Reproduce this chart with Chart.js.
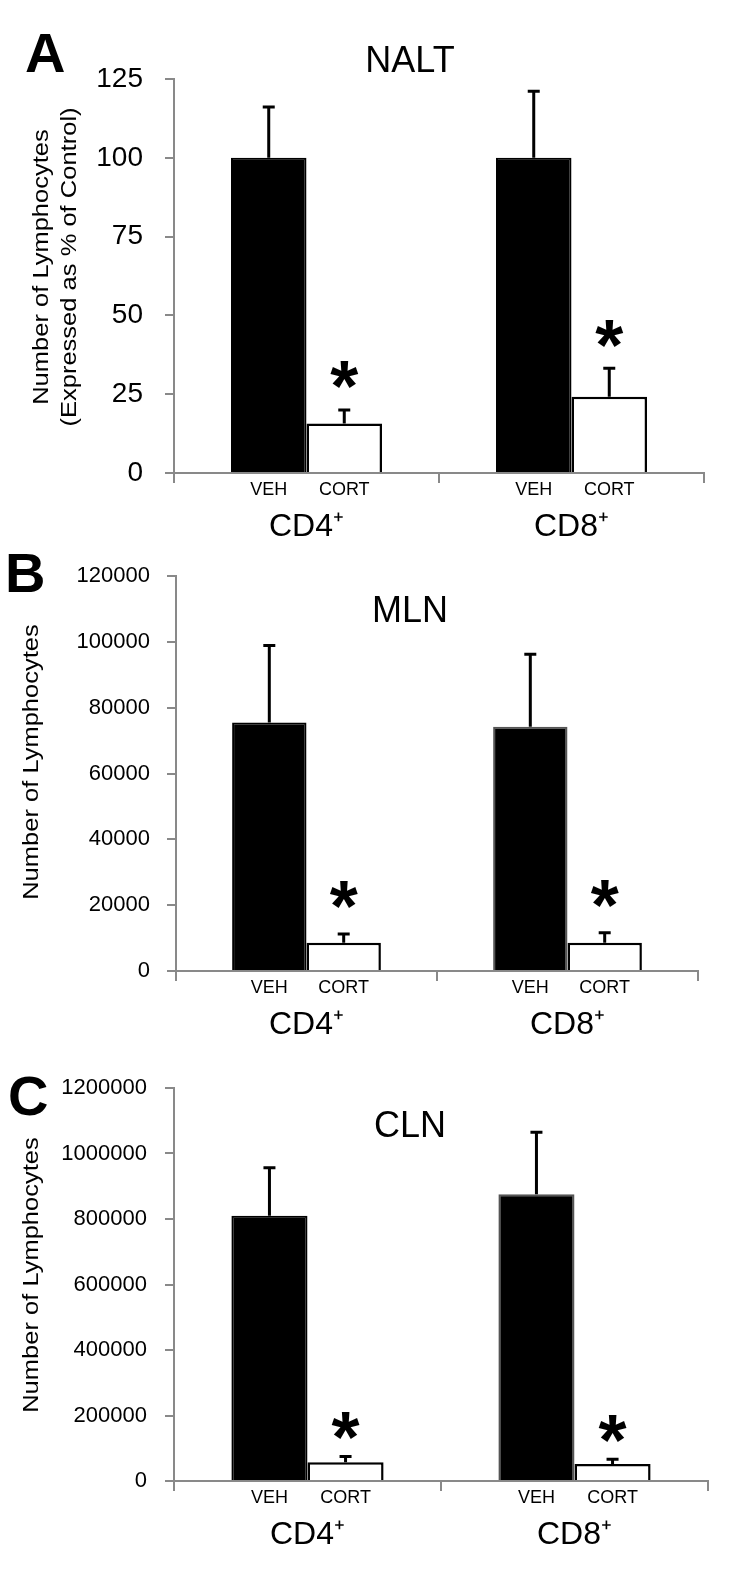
<!DOCTYPE html>
<html><head><meta charset="utf-8">
<script src="https://cdn.jsdelivr.net/npm/chart.js@4.4.1/dist/chart.umd.min.js"></script>
<style>
html,body{margin:0;padding:0;background:#fff;}
#wrap{position:relative;width:750px;height:1586px;overflow:hidden;}
.panel{position:absolute;left:0;width:750px;}
canvas{display:block;}
</style></head><body>
<div id="wrap">
<div class="panel" style="top:0;height:540px"><canvas id="cA" width="750" height="540"></canvas></div>
<div class="panel" style="top:540px;height:510px"><canvas id="cB" width="750" height="510"></canvas></div>
<div class="panel" style="top:1050px;height:536px"><canvas id="cC" width="750" height="536"></canvas></div>
</div>
<script>
// ---- data ----
const cellTypes = ['CD4\u207A', 'CD8\u207A'];
const treatments = ['VEH', 'CORT'];

const naltVeh = [100, 100];
const naltVehErr = [16.1, 21.1];
const naltCort = [15.7, 24.2];
const naltCortErr = [4.3, 9.0];
const naltTicks = [0, 25, 50, 75, 100, 125];

const mlnVeh = [75500, 74200];
const mlnVehErr = [23400, 22000];
const mlnCort = [8600, 8600];
const mlnCortErr = [2650, 3050];
const mlnTicks = [0, 20000, 40000, 60000, 80000, 100000, 120000];

const clnVeh = [810000, 875500];
const clnVehErr = [146700, 189300];
const clnCort = [57200, 52000];
const clnCortErr = [17300, 14400];
const clnTicks = [0, 200000, 400000, 600000, 800000, 1000000, 1200000];

// ---- drawing ----
const FONT = '"Liberation Sans", Arial, Helvetica, sans-serif';
const AXIS = '#898989';

const panels = [
  {id:'cA', letter:'A', title:'NALT', yTitle:['Number of Lymphocytes','(Expressed as % of Control)'],
   veh:naltVeh, vehErr:naltVehErr, cort:naltCort, cortErr:naltCortErr, ticks:naltTicks,
   padTop:79, padRight:46, yWidth:174, xHeight:67, tickFont:28, tickPad:22,
   titleY:59, letterX:25, letterY:72, yTitleX:[47.5, 76], yTitleY:267, starGap:35,
   vehBorder:['#000','#000']},
  {id:'cB', letter:'B', title:'MLN', yTitle:['Number of Lymphocytes'],
   veh:mlnVeh, vehErr:mlnVehErr, cort:mlnCort, cortErr:mlnCortErr, ticks:mlnTicks,
   padTop:36, padRight:52, yWidth:176, xHeight:79, tickFont:22, tickPad:17,
   titleY:69, letterX:5, letterY:52, yTitleX:[37.5], yTitleY:222, starGap:39,
   vehBorder:['#000','#555']},
  {id:'cC', letter:'C', title:'CLN', yTitle:['Number of Lymphocytes'],
   veh:clnVeh, vehErr:clnVehErr, cort:clnCort, cortErr:clnCortErr, ticks:clnTicks,
   padTop:38, padRight:42, yWidth:174, xHeight:105, tickFont:22, tickPad:18,
   titleY:74, letterX:8, letterY:65, yTitleX:[37.5], yTitleY:225, starGap:31,
   vehBorder:['#000','#555']}
];

function makeChart(p){
  const annot = {
    id: 'annot' + p.letter,
    afterDatasetsDraw(chart){
      const ctx = chart.ctx, ys = chart.scales.y, area = chart.chartArea;
      ctx.save();
      const series = [[p.veh, p.vehErr], [p.cort, p.cortErr]];
      series.forEach(([vals, errs], di) => {
        const meta = chart.getDatasetMeta(di);
        meta.data.forEach((bar, j) => {
          const top = ys.getPixelForValue(vals[j] + errs[j]);
          ctx.strokeStyle = '#000';
          ctx.lineWidth = 3;
          ctx.lineCap = 'butt';
          ctx.beginPath();
          ctx.moveTo(bar.x, bar.y);
          ctx.lineTo(bar.x, top);
          ctx.moveTo(bar.x - 6, top);
          ctx.lineTo(bar.x + 6, top);
          ctx.stroke();
          if (di === 1) {
            ctx.font = 'bold 72px ' + FONT;
            ctx.textAlign = 'center';
            ctx.textBaseline = 'alphabetic';
            ctx.fillStyle = '#000';
            const m = ctx.measureText('*');
            const cy = top - p.starGap;
            const dx = (m.actualBoundingBoxLeft - m.actualBoundingBoxRight) / 2;
            ctx.fillText('*', bar.x + dx, cy + (m.actualBoundingBoxAscent - m.actualBoundingBoxDescent) / 2);
          }
          ctx.font = '18px ' + FONT;
          ctx.textAlign = 'center';
          ctx.textBaseline = 'middle';
          ctx.fillStyle = '#000';
          ctx.fillText(treatments[di], bar.x, area.bottom + 17);
        });
      });
      ctx.restore();
    },
    afterDraw(chart){
      const ctx = chart.ctx;
      ctx.save();
      ctx.fillStyle = '#000';
      // panel title
      ctx.font = '36px ' + FONT;
      ctx.textAlign = 'center';
      ctx.textBaseline = 'alphabetic';
      ctx.fillText(p.title, 410, p.titleY + 12.9);
      // panel letter
      ctx.font = 'bold 56px ' + FONT;
      ctx.textAlign = 'left';
      ctx.fillText(p.letter, p.letterX, p.letterY);
      // y-axis title
      ctx.font = '22px ' + FONT;
      ctx.textAlign = 'center';
      p.yTitle.forEach((line, i) => {
        ctx.save();
        ctx.translate(p.yTitleX[i], p.yTitleY);
        ctx.rotate(-Math.PI / 2);
        ctx.scale(1.16, 1);
        ctx.fillText(line, 0, 0);
        ctx.restore();
      });
      ctx.restore();
    }
  };

  return new Chart(document.getElementById(p.id), {
    type: 'bar',
    data: {
      labels: cellTypes,
      datasets: [
        {label: treatments[0], data: p.veh, backgroundColor: '#000', borderColor: p.vehBorder, borderWidth: 2},
        {label: treatments[1], data: p.cort, backgroundColor: '#fff', borderColor: '#000', borderWidth: 2.5}
      ]
    },
    options: {
      responsive: false,
      animation: false,
      events: [],
      categoryPercentage: 0.57,
      barPercentage: 1.0,
      layout: {padding: {top: p.padTop, right: p.padRight, left: 0, bottom: 0}},
      plugins: {legend: {display: false}, tooltip: {enabled: false}, title: {display: false}},
      scales: {
        x: {
          type: 'category',
          offset: true,
          grid: {display: true, offset: true, drawOnChartArea: false, drawTicks: true, tickLength: 10, color: AXIS, lineWidth: 2},
          border: {display: true, color: AXIS, width: 2},
          ticks: {color: '#000', font: {family: FONT, size: 32}, padding: 25, maxRotation: 0},
          afterFit(s){ s.height = p.xHeight; }
        },
        y: {
          min: 0,
          max: p.ticks[p.ticks.length - 1],
          grid: {display: true, drawOnChartArea: false, drawTicks: true, tickLength: 9, color: AXIS, lineWidth: 2},
          border: {display: true, color: AXIS, width: 2},
          ticks: {color: '#000', font: {family: FONT, size: p.tickFont}, padding: p.tickPad, callback: v => String(v)},
          afterBuildTicks(s){ s.ticks = p.ticks.map(v => ({value: v})); },
          afterFit(s){ s.width = p.yWidth; }
        }
      }
    },
    plugins: [annot]
  });
}

panels.forEach(makeChart);
</script>
</body></html>
